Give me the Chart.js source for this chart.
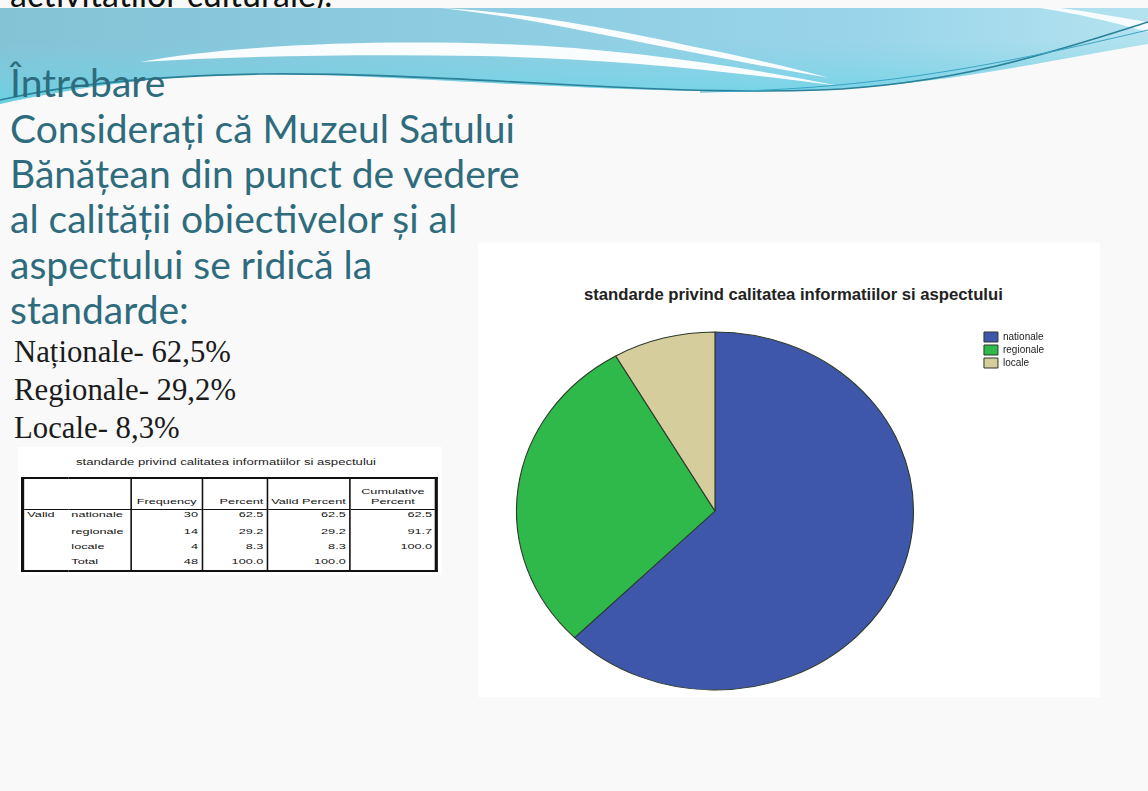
<!DOCTYPE html>
<html><head><meta charset="utf-8">
<script src="https://cdn.jsdelivr.net/npm/chart.js@4.4.1/dist/chart.umd.min.js"></script>
<style>
html,body{margin:0;padding:0}
body{width:1148px;height:791px;position:relative;overflow:hidden;background:#f9f9f9}
.abs{position:absolute;white-space:nowrap}
#cut{left:10px;top:-27px;font-family:Lato,sans-serif;font-size:34px;color:#111}
.q{left:10px;color:#2e6c7d;font-family:Lato,sans-serif;height:44px;line-height:44px}
.s{left:14px;color:#1b1b1b;font-family:"Liberation Serif",serif;height:36px;line-height:36px}
#panel{left:478px;top:243px;width:622px;height:454px;background:#fff}
#ctitle{font-family:Arial,"Liberation Sans",sans-serif;font-weight:bold;color:#222;height:16px;line-height:16px;top:287px}
#tbox{left:18px;top:447px;width:424px;height:128px;background:#fff}
#ttitle{font-family:Arial,"Liberation Sans",sans-serif;color:#222;top:455px;height:14px;line-height:14px;font-size:8.5px;transform-origin:0 50%}
#t{position:absolute;left:21px;top:477px;border-collapse:collapse;font-family:Arial,"Liberation Sans",sans-serif;font-size:8px;color:#111;border:2px solid #111;transform:scaleX(1.585);transform-origin:0 0;table-layout:fixed}
#t td{padding:0 2px;white-space:nowrap;overflow:visible}
#t tr.h td{height:28px;vertical-align:bottom;border-bottom:1px solid #111;text-align:center;line-height:10px;padding-bottom:2px}
#t td.v{border-left:1px solid #111;text-align:right}
#t tr.d td{height:15px;line-height:13px;vertical-align:top}
#t tr.d.first td{line-height:9px}
#chartWrap{position:absolute;left:449px;top:329px;height:364px}
</style></head>
<body>
<div id="cut" class="abs">activităților culturale).</div>
<svg class="abs" style="left:0;top:0" width="1148" height="120">
<defs>
<linearGradient id="g1" x1="0" y1="0" x2="1" y2="0">
<stop offset="0" stop-color="#84c2d6"/><stop offset="0.45" stop-color="#8ecde2"/><stop offset="0.75" stop-color="#99d4ea"/><stop offset="1" stop-color="#b4e3ef"/>
</linearGradient>
<linearGradient id="g2" x1="0" y1="0" x2="0" y2="1">
<stop offset="0" stop-color="#7ad4e4" stop-opacity="0"/><stop offset="1" stop-color="#62d6e6" stop-opacity="0.8"/>
</linearGradient>
</defs>
<path d="M0,8 H1148 V44 C1060,58 950,84 820,90 C660,96 470,80 300,74 C180,72 80,86 0,104 Z" fill="url(#g1)"/>
<path d="M0,40 H1148 V44 C1060,58 950,84 820,90 C660,96 470,80 300,74 C180,72 80,86 0,104 Z" fill="url(#g2)"/>
<path d="M140,62 C240,44 380,40 500,44 C620,48 740,66 840,86 C720,70 600,58 480,56 C360,54 240,56 140,62 Z" fill="#ffffff" opacity="0.95"/>
<path d="M440,8 C520,12 600,26 700,48 C760,60 800,70 830,78 C760,66 690,52 620,38 C560,26 500,14 440,8 Z" fill="#ffffff" opacity="0.95"/>
<path d="M1040,8 C1080,14 1120,24 1148,32 V22 C1110,16 1080,10 1060,8 Z" fill="#ffffff" opacity="0.9"/>
<path d="M0,100 C70,84 150,76 260,74 C450,72 640,96 820,90 C960,84 1060,50 1148,22" stroke="#2a8198" stroke-width="1.6" fill="none"/>
<path d="M700,92 C860,90 980,70 1148,30" stroke="#3aa4c4" stroke-width="1" fill="none"/>
</svg>

<div class="abs q" id="q0" style="top:60px">Întrebare</div>
<div class="abs q" id="q1" style="top:106px">Considerați că Muzeul Satului</div>
<div class="abs q" style="top:151px">Bănățean  din punct de vedere</div>
<div class="abs q" style="top:196px">al calității obiectivelor  și al</div>
<div class="abs q" style="top:242px">aspectului se ridică la</div>
<div class="abs q" style="top:287px">standarde:</div>
<div class="abs s" id="s1" style="top:334px">Naționale- 62,5%</div>
<div class="abs s" style="top:372px">Regionale- 29,2%</div>
<div class="abs s" style="top:410px">Locale- 8,3%</div>

<div id="tbox" class="abs"></div>
<div id="ttitle" class="abs">standarde privind calitatea informatiilor si aspectului</div>
<table id="t"><colgroup><col style="width:28.75px"><col style="width:40px"><col style="width:44.4px"><col style="width:41.25px"><col style="width:50px"><col style="width:55px"></colgroup><tbody id="tb"></tbody></table>

<div id="panel" class="abs"></div>
<div id="ctitle" class="abs">standarde privind calitatea informatiilor si aspectului</div>
<div id="chartWrap"><canvas id="c"></canvas></div>

<script>
const categories = ['nationale', 'regionale', 'locale'];
const frequency = [30, 14, 4];
const percent = [62.5, 29.2, 8.3];
const validPercent = [62.5, 29.2, 8.3];
const cumulativePercent = [62.5, 91.7, 100.0];
const totalFrequency = 48;
const totalPercent = 100.0;
const sliceColors = ['#3f57aa', '#2fb94a', '#d5cd9c'];

function fitWidth(el, target) {
  el.style.fontSize = '100px';
  const w = el.getBoundingClientRect().width;
  return 100 * target / w;
}
// left text block
const qs = fitWidth(document.getElementById('q1'), 505);
document.querySelectorAll('.q').forEach(e => e.style.fontSize = qs + 'px');
const ss = fitWidth(document.getElementById('s1'), 217);
document.querySelectorAll('.s').forEach(e => e.style.fontSize = ss + 'px');
// chart title
const ct = document.getElementById('ctitle');
ct.style.fontSize = fitWidth(ct, 419) + 'px';
ct.style.left = (793.5 - 419 / 2) + 'px';
// table title (stretched horizontally like the source image)
const tt = document.getElementById('ttitle');
const ttw = tt.getBoundingClientRect().width;
tt.style.transform = 'scaleX(' + (300 / ttw) + ')';
tt.style.left = '76px';

// table
const tb = document.getElementById('tb');
let html = '<tr class="h"><td colspan="2"></td><td class="v" style="text-align:center">Frequency</td><td class="v" style="text-align:right">Percent</td><td class="v" style="text-align:right">Valid Percent</td><td class="v">Cumulative<br>Percent</td></tr>';
categories.forEach((c, i) => {
  html += '<tr class="d' + (i === 0 ? ' first' : '') + '"><td>' + (i === 0 ? 'Valid' : '') + '</td><td>' + c + '</td><td class="v">' + frequency[i] + '</td><td class="v">' + percent[i].toFixed(1) + '</td><td class="v">' + validPercent[i].toFixed(1) + '</td><td class="v">' + cumulativePercent[i].toFixed(1) + '</td></tr>';
});
html += '<tr class="d"><td></td><td>Total</td><td class="v">' + totalFrequency + '</td><td class="v">' + totalPercent.toFixed(1) + '</td><td class="v">' + totalPercent.toFixed(1) + '</td><td class="v"></td></tr>';
tb.innerHTML = html;

// legend sizing so the pie centre sits where the chart area centre is
const legendFontSize = 10, legendBoxW = 14, legendPad = 3;
const mctx = document.createElement('canvas').getContext('2d');
mctx.font = 'normal ' + legendFontSize + 'px Arial';
const textW = Math.max(...categories.map(c => mctx.measureText(c).width));
const legendW = legendPad + legendBoxW + legendFontSize / 2 + textW + 10;
document.getElementById('chartWrap').style.width = (532 + legendW) + 'px';

const ellipse = {
  id: 'ellipse',
  beforeDatasetsDraw(chart, args, opts) {
    const arc = chart.getDatasetMeta(0).data[0];
    const ctx = chart.ctx;
    ctx.save();
    ctx.translate(arc.x, arc.y);
    ctx.scale(opts.sx, 1);
    ctx.translate(-arc.x, -arc.y);
  },
  afterDatasetsDraw(chart) { chart.ctx.restore(); }
};

new Chart(document.getElementById('c'), {
  type: 'pie',
  data: {
    labels: categories,
    datasets: [{
      data: frequency,
      backgroundColor: sliceColors,
      borderColor: '#2b3a2b',
      borderWidth: 1,
      radius: 179
    }]
  },
  options: {
    responsive: true,
    maintainAspectRatio: false,
    animation: false,
    layout: { padding: 0 },
    plugins: {
      ellipse: { sx: 1.109 },
      tooltip: { enabled: false },
      title: { display: false },
      legend: {
        position: 'right',
        align: 'start',
        labels: {
          boxWidth: legendBoxW,
          boxHeight: 10,
          padding: legendPad,
          color: '#222',
          font: { size: legendFontSize, family: 'Arial' }
        }
      }
    }
  },
  plugins: [ellipse]
});
</script>
</body></html>
